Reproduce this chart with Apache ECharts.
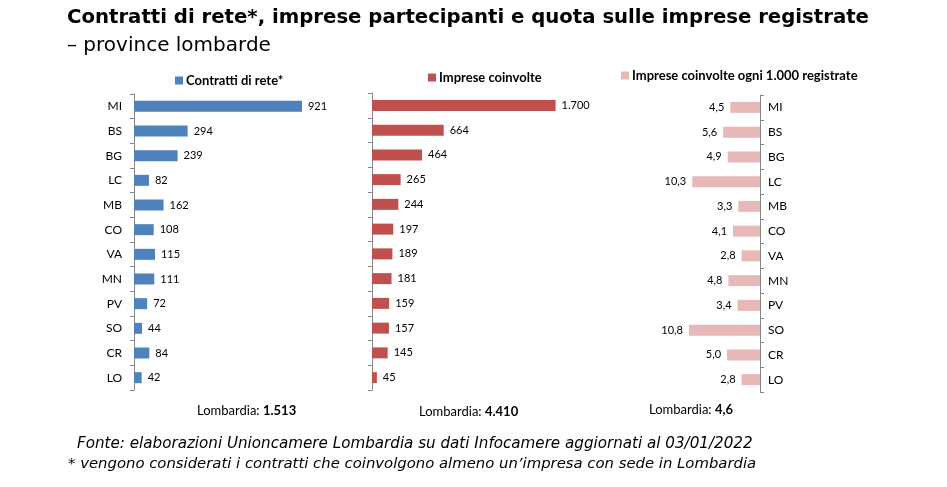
<!DOCTYPE html>
<html><head><meta charset="utf-8">
<script src="https://cdn.jsdelivr.net/npm/echarts@6/dist/echarts.min.js"></script>
<style>html,body{margin:0;padding:0;background:#fff}#c{width:947px;height:487px}</style>
</head><body><div id="c"></div>
<script>
const provinces = ['MI','BS','BG','LC','MB','CO','VA','MN','PV','SO','CR','LO'];
const contratti = [921,294,239,82,162,108,115,111,72,44,84,42];
const imprese = [1700,664,464,265,244,197,189,181,159,157,145,45];
const ogniMille = [4.5,5.6,4.9,10.3,3.3,4.1,2.8,4.8,3.4,10.8,5.0,2.8];
const seriesNames = ['Contratti di rete*','Imprese coinvolte','Imprese coinvolte ogni 1.000 registrate'];
const totals = ['1.513','4.410','4,6'];

const F = 'Lato, "Open Sans", sans-serif';
const D = '"DejaVu Sans", sans-serif';
function fmtInt(v){return String(v).replace(/\B(?=(\d{3})+(?!\d))/g,'.');}
function fmtDec(v){return v.toFixed(1).replace('.',',');}

const chart = echarts.init(document.getElementById('c'));
const catAxis = (gi, pos, showLabel, margin) => ({
  type:'category', gridIndex:gi, data:provinces, inverse:true, position:pos,
  axisLine:{show:true,lineStyle:{color:'#868686',width:1}},
  axisTick:{show:true,length:4,lineStyle:{color:'#868686'}},
  axisLabel:{show:showLabel,color:'#000',fontSize:12,fontFamily:F,margin:margin},
  splitLine:{show:false}
});
const valAxis = (gi, max, inv) => ({
  type:'value', gridIndex:gi, min:0, max:max, inverse:!!inv, show:false
});
const lbl = {color:'#000',fontSize:11,fontFamily:F};
const totRich = {a:{fontFamily:F,fontSize:13,fontWeight:'normal',color:'#000'},b:{fontFamily:F,fontSize:13,fontWeight:'bold',color:'#000'}};
const legText = {fontFamily:F,fontSize:13,fontWeight:'bold',color:'#000',padding:[0,0,0,-2]};
chart.setOption({
  animation:false,
  title:[
    {text:'Contratti di rete*, imprese partecipanti e quota sulle imprese registrate',left:62,top:3,
     textStyle:{fontFamily:D,fontWeight:'bold',fontSize:19.7,color:'#000'}},
    {text:'– province lombarde',left:62,top:31,
     textStyle:{fontFamily:D,fontWeight:'normal',fontSize:20,color:'#000'}},
    {text:'{a|Lombardia: }{b|'+totals[0]+'}',left:192,top:399,textStyle:{rich:totRich}},
    {text:'{a|Lombardia: }{b|'+totals[1]+'}',left:414,top:400,textStyle:{rich:totRich}},
    {text:'{a|Lombardia: }{b|'+totals[2]+'}',left:644,top:398,textStyle:{rich:totRich}},
    {text:'Fonte: elaborazioni Unioncamere Lombardia su dati Infocamere aggiornati al 03/01/2022',left:72,top:432,
     textStyle:{fontFamily:D,fontStyle:'italic',fontWeight:'normal',fontSize:15.15,color:'#000'}},
    {text:'* vengono considerati i contratti che coinvolgono almeno un’impresa con sede in Lombardia',left:63,top:452,
     textStyle:{fontFamily:D,fontStyle:'italic',fontWeight:'normal',fontSize:14.85,color:'#000'}}
  ],
  legend:[
    {data:[seriesNames[0]],icon:'rect',left:170,top:69,itemWidth:8,itemHeight:8,textStyle:legText},
    {data:[seriesNames[1]],icon:'rect',left:423,top:66,itemWidth:8,itemHeight:8,textStyle:legText},
    {data:[seriesNames[2]],icon:'rect',left:616,top:64,itemWidth:8,itemHeight:8,textStyle:legText}
  ],
  grid:[
    {left:134,top:94,width:182.4,height:296},
    {left:372,top:93,width:216,height:297},
    {left:681,top:95,width:79,height:297}
  ],
  xAxis:[valAxis(0,1000),valAxis(1,2000),valAxis(2,12,true)],
  yAxis:[catAxis(0,'left',true,12),catAxis(1,'left',false,10),catAxis(2,'right',true,8)],
  series:[
    {name:seriesNames[0],type:'bar',xAxisIndex:0,yAxisIndex:0,data:contratti,barWidth:11,
     itemStyle:{color:'#4F81BD'},label:{show:true,position:'right',distance:6,...lbl,formatter:p=>fmtInt(p.value)}},
    {name:seriesNames[1],type:'bar',xAxisIndex:1,yAxisIndex:1,data:imprese,barWidth:11,
     itemStyle:{color:'#C0504D'},label:{show:true,position:'right',distance:6,...lbl,formatter:p=>fmtInt(p.value)}},
    {name:seriesNames[2],type:'bar',xAxisIndex:2,yAxisIndex:2,data:ogniMille,barWidth:11,
     itemStyle:{color:'#E6B9B8'},label:{show:true,position:'left',distance:6,...lbl,formatter:p=>fmtDec(p.value)}}
  ]
});
</script></body></html>
